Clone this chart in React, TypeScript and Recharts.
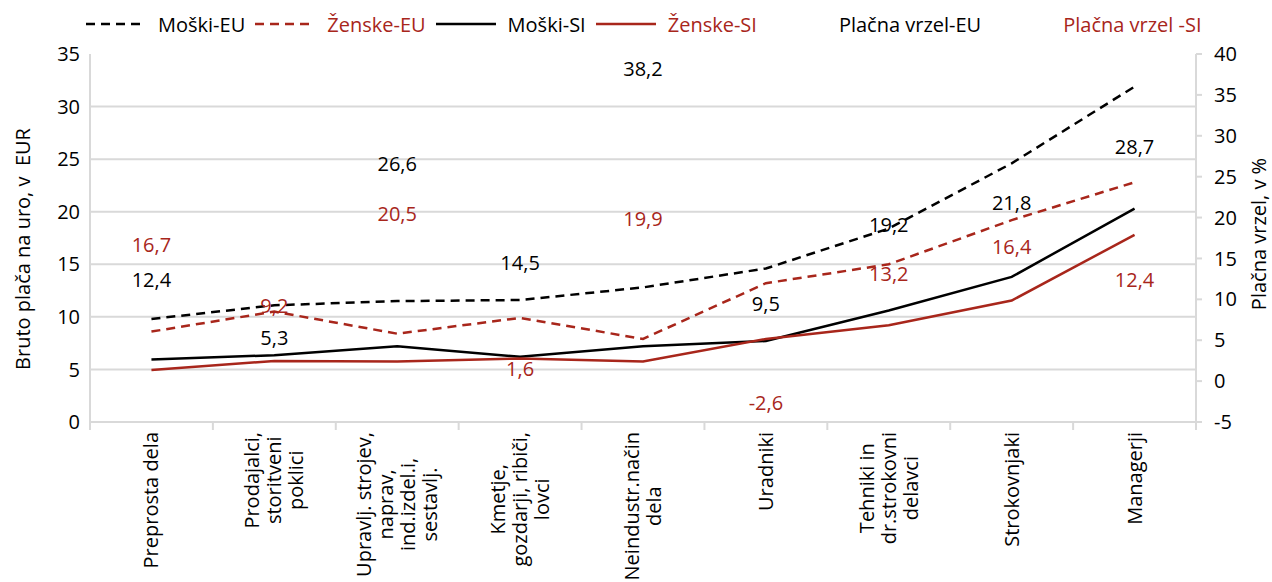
import { LineChart, Line, XAxis, YAxis, CartesianGrid, LabelList } from "recharts";

if (typeof document !== "undefined") document.body.style.margin = "0";

// occupational groups (line breaks as in the source chart)
const categories = [
  "Preprosta dela",
  "Prodajalci,\nstoritveni\npoklici",
  "Upravlj. strojev,\nnaprav,\nind.izdel.i,\nsestavlj.",
  "Kmetje,\ngozdarji, ribiči,\nlovci",
  "Neindustr.način\ndela",
  "Uradniki",
  "Tehniki in\ndr.strokovni\ndelavci",
  "Strokovnjaki",
  "Managerji",
];

// gross hourly wage, EUR
const menEU = [9.8, 11.1, 11.5, 11.6, 12.8, 14.6, 18.4, 24.6, 31.9];
const womenEU = [8.6, 10.5, 8.4, 9.9, 7.9, 13.2, 15.0, 19.2, 22.8];
const menSI = [5.95, 6.35, 7.2, 6.2, 7.2, 7.7, 10.6, 13.8, 20.3];
const womenSI = [4.95, 5.8, 5.75, 6.05, 5.75, 7.9, 9.2, 11.55, 17.8];

// pay gap, %
const gapEU = [12.4, 5.3, 26.6, 14.5, 38.2, 9.5, 19.2, 21.8, 28.7];
const gapSI = [16.7, 9.2, 20.5, 1.6, 19.9, -2.6, 13.2, 16.4, 12.4];

const leftTicks = [0, 5, 10, 15, 20, 25, 30, 35];
const leftGrid = [5, 10, 15, 20, 25, 30];
const rightTicks = [-5, 0, 5, 10, 15, 20, 25, 30, 35, 40];

const RED = "#A8261B";
const GRID = "#d9d9d9";
const FONT = "'Open Sans', sans-serif";
const FS = 20;

const W = 1272;
const H = 582;
const LEFT_W = 90;
const RIGHT_W = 76;
const TOP = 54;
const X_AXIS_H = 160;
const BAND = (W - LEFT_W - RIGHT_W) / categories.length;

const data = categories.map((cat, i) => ({
  cat,
  menEU: menEU[i],
  womenEU: womenEU[i],
  menSI: menSI[i],
  womenSI: womenSI[i],
  gapEU: gapEU[i],
  gapSI: gapSI[i],
}));

const legendItems = [
  { name: "Moški-EU", color: "#000", dash: true, line: true },
  { name: "Ženske-EU", color: RED, dash: true, line: true },
  { name: "Moški-SI", color: "#000", dash: false, line: true },
  { name: "Ženske-SI", color: RED, dash: false, line: true },
  { name: "Plačna vrzel-EU", color: "#000", dash: false, line: false },
  { name: "Plačna vrzel -SI", color: RED, dash: false, line: false },
];

let ctx: CanvasRenderingContext2D | null = null;
function textWidth(s: string) {
  if (!ctx) ctx = document.createElement("canvas").getContext("2d");
  if (!ctx) return s.length * 10;
  ctx.font = `${FS}px 'Open Sans'`;
  return ctx.measureText(s).width;
}

const fmt = (v: number) => v.toFixed(1).replace(".", ",");

function CategoryTick(props: any) {
  const { x, y, payload, index } = props;
  const lines = String(payload.value).split("\n");
  const longest = Math.max(...lines.map(textWidth));
  const lh = 22;
  const axisY = y - 10;
  return (
    <g>
      <line x1={x - BAND / 2} x2={x - BAND / 2} y1={axisY} y2={axisY + 8} stroke={GRID} strokeWidth={2} />
      {index === categories.length - 1 && (
        <line x1={x + BAND / 2} x2={x + BAND / 2} y1={axisY} y2={axisY + 8} stroke={GRID} strokeWidth={2} />
      )}
      <g transform={`translate(${x},${y}) rotate(-90)`}>
        <text textAnchor="middle" fontSize={FS} fill="#000" fontFamily={FONT}>
          {lines.map((l, i) => (
            <tspan key={i} x={-longest / 2} y={(i - (lines.length - 1) / 2) * lh} dy="0.35em">
              {l}
            </tspan>
          ))}
        </text>
      </g>
    </g>
  );
}

const gapLabel = (color: string) => (p: any) => (
  <text
    x={p.x}
    y={p.y}
    textAnchor="middle"
    dominantBaseline="central"
    fill={color}
    fontSize={FS}
    fontFamily={FONT}
  >
    {fmt(Number(p.value))}
  </text>
);

function Legend() {
  return (
    <div
      style={{
        position: "absolute",
        left: 86,
        top: 8,
        height: 32,
        display: "flex",
        alignItems: "center",
        fontFamily: FONT,
        fontSize: FS,
        whiteSpace: "nowrap",
      }}
    >
      {legendItems.map((it) => (
        <div key={it.name} style={{ display: "flex", alignItems: "center", marginRight: 10 }}>
          <svg width={60} height={10} style={{ marginRight: 12 }}>
            {it.line && (
              <line
                x1={0}
                x2={60}
                y1={5}
                y2={5}
                stroke={it.color}
                strokeWidth={2.5}
                strokeDasharray={it.dash ? "9 6" : undefined}
              />
            )}
          </svg>
          <span style={{ color: it.color }}>{it.name}</span>
        </div>
      ))}
    </div>
  );
}

export default function App() {
  return (
    <div style={{ position: "relative", width: W, height: H, background: "#fff" }}>
      <LineChart width={W} height={H} data={data} margin={{ top: TOP, right: 0, bottom: 0, left: 0 }}>
        <CartesianGrid yAxisId="left" vertical={false} horizontalValues={leftGrid} stroke={GRID} strokeWidth={2} />
        <XAxis
          dataKey="cat"
          interval={0}
          height={X_AXIS_H}
          padding={{ left: BAND / 2, right: BAND / 2 }}
          tickLine={false}
          tickSize={8}
          tickMargin={2}
          axisLine={{ stroke: GRID, strokeWidth: 2 }}
          tick={<CategoryTick />}
        />
        <YAxis
          yAxisId="left"
          width={LEFT_W}
          domain={[0, 35]}
          ticks={leftTicks}
          interval={0}
          tickLine={false}
          tickSize={6}
          tickMargin={4}
          axisLine={{ stroke: GRID, strokeWidth: 2 }}
          tick={{ fill: "#000", fontSize: FS, fontFamily: FONT }}
          label={{
            content: (p: any) => {
              const vb = p.viewBox;
              return (
                <text
                  transform={`translate(${vb.x + 22},${vb.y + vb.height / 2 + 11}) rotate(-90)`}
                  textAnchor="middle"
                  dominantBaseline="central"
                  fontSize={FS}
                  fontFamily={FONT}
                  fill="#000"
                  style={{ whiteSpace: "pre" }}
                >
                  Bruto plača na uro, v  EUR
                </text>
              );
            },
          }}
        />
        <YAxis
          yAxisId="right"
          orientation="right"
          width={RIGHT_W}
          domain={[-5, 40]}
          ticks={rightTicks}
          interval={0}
          tickLine={{ stroke: GRID, strokeWidth: 2 }}
          tickSize={6}
          tickMargin={12}
          axisLine={{ stroke: GRID, strokeWidth: 2 }}
          tick={{ fill: "#000", fontSize: FS, fontFamily: FONT, textAnchor: "start" }}
          label={{
            content: (p: any) => {
              const vb = p.viewBox;
              return (
                <text
                  transform={`translate(${vb.x + vb.width - 14},${vb.y + vb.height / 2 - 4}) rotate(-90)`}
                  textAnchor="middle"
                  dominantBaseline="central"
                  fontSize={FS}
                  fontFamily={FONT}
                  fill="#000"
                >
                  Plačna vrzel, v %
                </text>
              );
            },
          }}
        />
        <Line yAxisId="left" dataKey="menEU" stroke="#000" strokeWidth={2.5} strokeDasharray="9 6" dot={false} activeDot={false} isAnimationActive={false} />
        <Line yAxisId="left" dataKey="womenEU" stroke={RED} strokeWidth={2.5} strokeDasharray="9 6" dot={false} activeDot={false} isAnimationActive={false} />
        <Line yAxisId="left" dataKey="menSI" stroke="#000" strokeWidth={2.5} dot={false} activeDot={false} isAnimationActive={false} />
        <Line yAxisId="left" dataKey="womenSI" stroke={RED} strokeWidth={2.5} dot={false} activeDot={false} isAnimationActive={false} />
        <Line yAxisId="right" dataKey="gapEU" stroke="none" dot={false} activeDot={false} isAnimationActive={false} legendType="none">
          <LabelList dataKey="gapEU" content={gapLabel("#000")} />
        </Line>
        <Line yAxisId="right" dataKey="gapSI" stroke="none" dot={false} activeDot={false} isAnimationActive={false} legendType="none">
          <LabelList dataKey="gapSI" content={gapLabel(RED)} />
        </Line>
      </LineChart>
      <Legend />
    </div>
  );
}
